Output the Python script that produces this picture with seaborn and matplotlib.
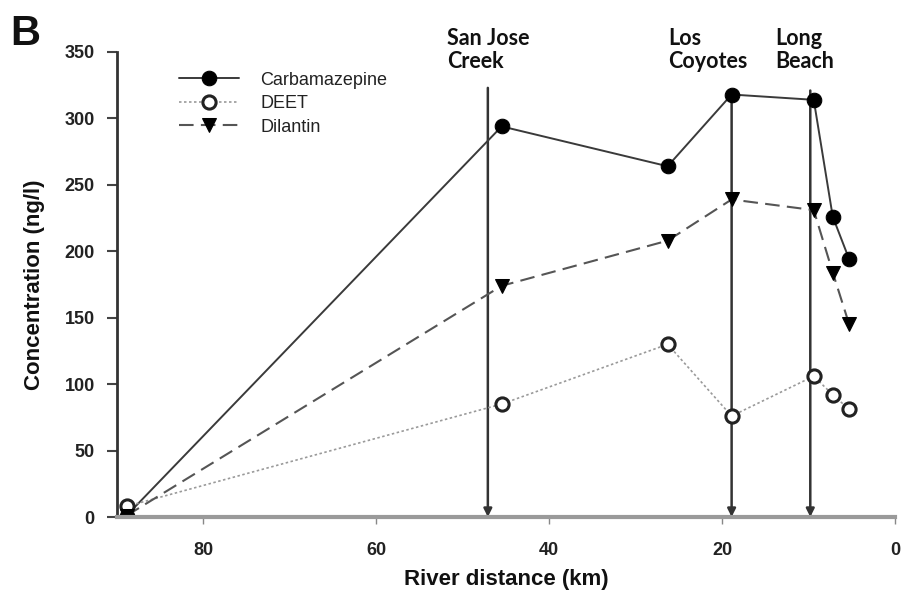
import matplotlib
matplotlib.use("Agg")
import matplotlib.pyplot as plt
import seaborn as sns
import pandas as pd

# ---- data ----
distance_km = [88.9, 45.5, 26.3, 18.9, 9.4, 7.2, 5.3]
carbamazepine = [1, 294, 264, 318, 314, 226, 194]
deet = [8, 85, 130, 76, 106, 92, 81]
dilantin = [1, 174, 208, 239, 231, 184, 145]
series_names = ["Carbamazepine", "DEET", "Dilantin"]

stations = ["San Jose\nCreek", "Los\nCoyotes", "Long\nBeach"]
station_km = [47.1, 18.9, 9.8]
station_top = [323, 318, 321]
label_km = [51.8, 26.2, 13.8]

x_ticks = [80, 60, 40, 20, 0]
y_ticks = [0, 50, 100, 150, 200, 250, 300, 350]

df = pd.DataFrame({
    "km": distance_km * 3,
    "conc": carbamazepine + deet + dilantin,
    "compound": sum([[n] * len(distance_km) for n in series_names], []),
})

sns.set_style("white")
plt.rcParams["font.family"] = ["Liberation Sans", "DejaVu Sans"]

fig = plt.figure(figsize=(9.1, 5.95), dpi=100)
ax = fig.add_axes([117 / 910, 78 / 595, 778 / 910, 465 / 595])

styles = {
    "Carbamazepine": dict(color="#3a3a3a", linestyle="-", linewidth=1.4, marker="o",
                          markersize=10.5, markerfacecolor="black", markeredgecolor="black"),
    "DEET": dict(color="#9a9a9a", linestyle=(0, (1.5, 1.5)), linewidth=1.2, marker="o",
                 markersize=9.5, markerfacecolor="white", markeredgecolor="#222222",
                 markeredgewidth=2.2),
    "Dilantin": dict(color="#555555", linestyle=(0, (7, 3.5)), linewidth=1.5, marker="v",
                     markersize=10.5, markerfacecolor="black", markeredgecolor="black"),
}

for name in series_names:
    sub = df[df["compound"] == name]
    sns.lineplot(data=sub, x="km", y="conc", ax=ax, sort=False, label=name,
                 legend=False, **styles[name])

# vertical arrows for stations
for km, top, lab, lkm in zip(station_km, station_top, stations, label_km):
    ax.annotate("", xy=(km, 0), xytext=(km, top),
                arrowprops=dict(arrowstyle="-|>", color="#333333", lw=1.8,
                                mutation_scale=12, shrinkA=0, shrinkB=0),
                zorder=1)
    ax.text(lkm, 1.052, lab, transform=ax.get_xaxis_transform(), ha="left", va="top",
            fontsize=15.5, fontweight="bold", family=["Lato", "DejaVu Sans"],
            color="#111111", linespacing=1.12, clip_on=False)

ax.set_xlim(90, 0)
ax.set_ylim(0, 350)
ax.set_xticks(x_ticks)
ax.set_yticks(y_ticks)
ax.set_xticklabels([str(t) for t in x_ticks], fontweight="bold", fontsize=13)
ax.set_yticklabels([str(t) for t in y_ticks], fontweight="bold", fontsize=13)

for s in ["top", "right"]:
    ax.spines[s].set_visible(False)
ax.spines["left"].set_color("#333333")
ax.spines["left"].set_linewidth(2)
ax.spines["bottom"].set_color("#9a9a9a")
ax.spines["bottom"].set_linewidth(3)

ax.tick_params(axis="x", direction="out", length=5, width=1, color="#888888",
               pad=13, labelcolor="#222222", bottom=True)
ax.tick_params(axis="y", direction="out", length=7, width=1.5, color="#444444",
               pad=9, labelcolor="#222222", left=True)

ax.set_xlabel("River distance (km)", fontsize=16, fontweight="bold", labelpad=7,
              color="#111111")
ax.set_ylabel("Concentration (ng/l)", fontsize=16, fontweight="bold", labelpad=14,
              color="#111111")

handles = ax.get_lines()[:3]
leg = ax.legend(handles, series_names, loc="upper left", bbox_to_anchor=(0.08, 0.958),
                frameon=False, fontsize=13, handlelength=3.3, handletextpad=1.2,
                labelspacing=0.36, borderpad=0, borderaxespad=0)
for t in leg.get_texts():
    t.set_color("#222222")

fig.text(10 / 910, 1 - 45 / 595, "B", fontsize=30, fontweight="bold", color="#111111",
         ha="left", va="baseline")

fig.savefig("out.png", dpi=100)
